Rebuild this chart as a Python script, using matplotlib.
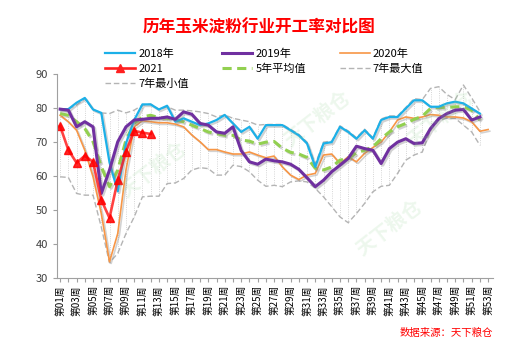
import numpy as np
import matplotlib
matplotlib.use('Agg')
import matplotlib.pyplot as plt
import matplotlib.patheffects as pe
from matplotlib.lines import Line2D

plt.rcParams['font.family'] = ['Noto Sans CJK SC', 'DejaVu Sans']

weeks = np.arange(1, 54)
week_labels = ['第%02d周' % w if w % 2 == 1 else '' for w in weeks]

y2018 = [79.7, 79.7, 81.6, 83.0, 79.6, 78.6, 64.0, 55.5, 69.6, 76.5,
         81.1, 81.1, 79.6, 80.7, 76.0, 77.0, 76.0, 75.0, 75.5, 76.5,
         78.0, 75.5, 73.0, 74.5, 71.0, 75.0, 75.0, 75.0, 73.5, 72.0,
         69.6, 62.7, 69.6, 70.0, 74.5, 73.0, 71.0, 73.5, 71.0, 76.5,
         77.4, 77.4, 79.9, 82.3, 82.3, 80.4, 80.4, 81.4, 81.9, 81.4,
         79.9, 78.4]
y2019 = [79.7, 79.4, 74.5, 76.0, 74.5, 54.9, 61.8, 70.1, 74.5, 76.5,
         76.7, 77.0, 77.0, 77.4, 76.7, 78.9, 78.2, 75.5, 75.0, 73.0,
         72.6, 74.5, 67.5, 64.2, 63.5, 65.0, 64.5, 64.2, 63.5, 62.0,
         59.5, 56.9, 58.8, 61.3, 63.2, 65.2, 68.8, 68.1, 67.6, 63.7,
         68.1, 70.0, 71.0, 69.6, 69.8, 74.0, 76.9, 78.4, 79.4, 79.6,
         76.5, 77.4]
y2020 = [77.9, 76.0, 73.5, 67.6, 59.8, 49.0, 34.8, 43.1, 61.8, 74.5,
         76.3, 76.0, 75.7, 75.7, 75.3, 74.5, 72.1, 70.1, 67.8, 67.8,
         67.1, 66.5, 66.5, 67.1, 66.2, 65.4, 65.9, 62.7, 60.3, 59.0,
         60.3, 60.8, 66.2, 66.5, 63.7, 65.7, 64.2, 66.7, 68.4, 70.0,
         73.0, 76.5, 77.4, 77.0, 77.4, 78.1, 77.9, 77.4, 77.4, 77.1,
         76.0, 73.2, 73.7]
y2021 = [74.7, 67.7, 63.9, 66.0, 64.2, 53.0, 47.7, 58.8, 67.2, 73.3,
         72.8, 72.4]
avg5 = [78.4, 77.9, 76.0, 74.0, 70.1, 62.8, 56.9, 61.8, 70.6, 75.5,
        77.4, 77.9, 77.2, 77.0, 76.5, 76.0, 75.0, 74.0, 73.0, 72.5,
        72.0, 72.0, 70.6, 70.3, 69.4, 70.0, 70.2, 68.2, 67.0, 66.5,
        65.5, 62.3, 61.8, 62.7, 64.7, 65.2, 66.9, 67.6, 68.6, 71.0,
        73.0, 74.5, 75.5, 76.7, 77.6, 79.9, 80.2, 80.2, 80.4, 80.4,
        79.4, 76.5]
max7 = [79.8, 79.8, 80.9, 82.8, 79.6, 78.6, 78.4, 79.4, 78.6, 79.4,
        80.9, 81.2, 79.6, 80.4, 79.4, 79.4, 79.2, 78.9, 78.4, 77.4,
        78.0, 77.0, 76.5, 76.0, 75.0, 75.2, 75.2, 75.2, 73.8, 72.3,
        70.0, 63.5, 70.0, 70.3, 74.8, 73.3, 71.3, 73.8, 71.3, 76.8,
        77.7, 77.7, 80.2, 82.8, 82.5, 85.8, 86.3, 84.0, 82.5, 86.8,
        83.0, 79.0]
min7 = [59.8, 59.6, 54.9, 54.4, 54.4, 45.0, 34.5, 37.3, 43.1, 48.0,
        53.9, 54.1, 54.1, 57.8, 58.0, 59.3, 61.8, 62.5, 62.2, 60.3,
        60.3, 63.2, 62.8, 61.3, 58.8, 57.0, 57.3, 56.9, 58.3, 58.6,
        58.3, 56.4, 53.9, 51.0, 48.0, 46.3, 49.0, 52.0, 55.4, 57.0,
        57.3, 60.8, 64.7, 66.2, 67.1, 73.5, 76.5, 77.0, 77.0, 75.0,
        73.0, 69.1]

c2018 = '#1CB0E8'
c2019 = '#7030A0'
c2020 = '#F79646'
c2021 = '#FF2020'
cavg = '#92D050'
cgray = '#B4B4B4'

fig = plt.figure(figsize=(5.12, 3.4), dpi=100)
ax = fig.add_axes([0.111, 0.182, 0.852, 0.600])

shadow = [pe.SimpleLineShadow(offset=(1.2, -1.2), shadow_color='#808080', alpha=0.35), pe.Normal()]

# watermarks (faint)
for (wx, wy) in [(0.30, 0.50), (0.62, 0.65), (0.86, 0.65), (0.76, 0.33)]:
    fig.text(wx, wy, '天下粮仓', color='#8ED18E', alpha=0.16, fontsize=14,
             fontweight='bold', rotation=38, ha='center', va='center')

n = len(max7)
ax.vlines(weeks[:n], min7, max7, colors='#C8C8C8', linestyles=':', linewidth=0.6)

ax.plot(weeks[:len(max7)], max7, color=cgray, lw=1.0, ls=(0, (4, 2)))
ax.plot(weeks[:len(min7)], min7, color=cgray, lw=1.0, ls=(0, (4, 2)))
ax.plot(weeks[:len(y2020)], y2020, color=c2020, lw=1.2, path_effects=shadow)
ax.plot(weeks[:len(avg5)], avg5, color=cavg, lw=2.2, ls=(0, (3, 1.8)), path_effects=shadow)
ax.plot(weeks[:len(y2018)], y2018, color=c2018, lw=1.6, path_effects=shadow)
ax.plot(weeks[:len(y2019)], y2019, color=c2019, lw=2.2, path_effects=shadow)
ax.plot(weeks[:len(y2021)], y2021, color=c2021, lw=1.9, marker='^', markersize=6,
        markerfacecolor='#FF0000', markeredgecolor='#FF0000', alpha=0.85)

ax.set_xlim(0.6, 53.6)
ax.set_ylim(30, 90)
ax.set_yticks(np.arange(30, 91, 10))
ax.set_xticks(weeks)
ax.set_xticklabels(week_labels, rotation=90, fontsize=7)
ax.tick_params(axis='y', labelsize=8, labelcolor='#404040', color='#A0A0A0', length=3)
ax.tick_params(axis='x', color='#A0A0A0', length=3, pad=2)
for s in ['top', 'right']:
    ax.spines[s].set_visible(False)
for s in ['left', 'bottom']:
    ax.spines[s].set_color('#A0A0A0')

fig.text(0.506, 0.918, '历年玉米淀粉行业开工率对比图', color='#FF0000', fontsize=12,
         fontweight='bold', ha='center', va='center')
fig.text(0.962, 0.02, '数据来源：天下粮仓', color='#FF0000', fontsize=7.5,
         ha='right', va='center')

handles = [
    Line2D([0], [0], color=c2018, lw=1.6),
    Line2D([0], [0], color=c2021, lw=1.9, marker='^', markersize=6),
    Line2D([0], [0], color=cgray, lw=1.0, ls=(0, (4, 2))),
    Line2D([0], [0], color=c2019, lw=2.2),
    Line2D([0], [0], color=cavg, lw=2.2, ls=(0, (3, 1.8))),
    Line2D([0], [0], color=c2020, lw=1.2),
    Line2D([0], [0], color=cgray, lw=1.0, ls=(0, (4, 2))),
]
labels = ['2018年', '2021', '7年最小值', '2019年', '5年平均值', '2020年', '7年最大值']
fig.legend(handles, labels, ncol=3, loc='upper left', bbox_to_anchor=(0.205, 0.857),
           bbox_transform=fig.transFigure, frameon=False, fontsize=8,
           handlelength=2.7, handletextpad=0.3, columnspacing=3.0,
           labelspacing=0.42, borderpad=0, borderaxespad=0)

fig.savefig('out.png', dpi=100)
